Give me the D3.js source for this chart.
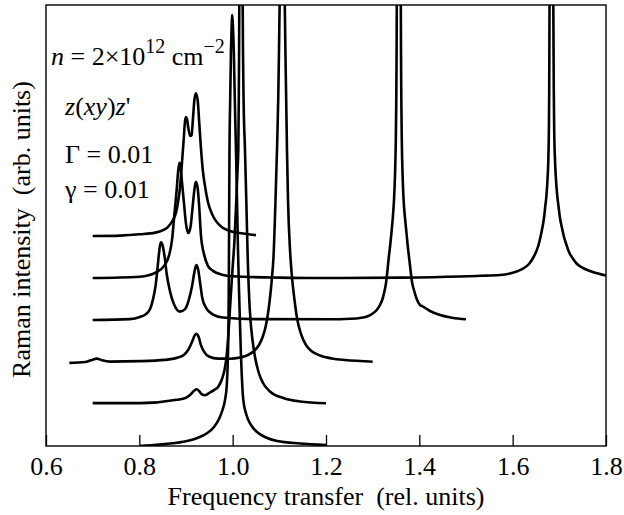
<!DOCTYPE html>
<html>
<head>
<meta charset="utf-8">
<script src="https://cdn.jsdelivr.net/npm/d3@7"></script>
<style>
  body { margin: 0; background: #fff; }
  svg text { font-family: "Liberation Serif", "Times New Roman", Times, serif; font-size: 26px; fill: #000; }
</style>
</head>
<body>
<svg id="chart" width="624" height="515"></svg>
<script>
//------------------- données -------------------

var xTicks = [0.6, 0.8, 1.0, 1.2, 1.4, 1.6, 1.8];

// décalage vertical de chaque spectre (du bas vers le haut)
var offsets = [0, 1, 2, 3, 4, 5];

// [fréquence, intensité au-dessus de la ligne de base]
var spectreA = [[0.8000,0],[0.8443,0.036],[0.8936,0.102],[0.9214,0.179],[0.9450,0.302],[0.9600,0.452],[0.9707,0.643],
  [0.9782,0.857],[0.9836,1.095],[0.9874,1.452],[0.9896,2.048],[0.9911,3.0],[0.9919,4.19],[0.9926,5.857],
  [0.9932,7.048],[0.9947,8.238],[0.9964,9.429],[0.9977,9.952],[0.9992,10.262],[1.0007,9.952],[1.0024,9.429],
  [1.0046,8.238],[1.0071,7.048],[1.0093,5.857],[1.0114,4.667],[1.0142,3.476],[1.0174,2.286],[1.0228,1.095],
  [1.0296,0.738],[1.0393,0.5],[1.0521,0.333],[1.0714,0.202],[1.0950,0.119],[1.1443,0.06],[1.2000,0.024]];

var spectreB = [[0.700,0.02],[0.801,0.02],[0.880,0.10],[0.900,0.15],[0.911,0.24],[0.918,0.32],[0.923,0.35],[0.928,0.31],
  [0.934,0.23],[0.941,0.21],[0.951,0.27],[0.960,0.33],[0.9692,0.412],[0.9771,0.595],[0.9825,0.81],[0.9868,1.119],
  [0.9900,1.524],[0.9928,2.0],[0.9954,2.476],[0.9996,3.19],[1.0039,3.905],[1.0078,4.857],[1.0104,5.571],
  [1.0121,6.048],[1.0131,7.238],[1.0138,8.429],[1.0142,9.5],[1.0179,13],[1.0215,9.5],[1.0221,8.429],
  [1.0234,7.238],[1.0264,6.048],[1.0292,4.857],[1.0318,3.667],[1.0356,2.476],[1.0382,2.0],[1.0425,1.524],
  [1.0479,1.119],[1.0554,0.762],[1.0650,0.5],[1.0800,0.298],[1.1085,0.143],[1.1443,0.06],[1.2000,0.017]];

var spectreC = [[0.650,-0.02],[0.684,0],[0.696,0.04],[0.709,0.08],[0.718,0.05],[0.737,0.01],[0.801,0.02],[0.855,0.05],
  [0.881,0.10],[0.896,0.17],[0.906,0.31],[0.913,0.48],[0.918,0.62],[0.922,0.67],[0.927,0.60],[0.932,0.40],
  [0.939,0.24],[0.949,0.13],[0.969,0.08],[0.9943,0.079],[1.0157,0.107],[1.0329,0.167],[1.0457,0.262],
  [1.0564,0.405],[1.0650,0.619],[1.0714,0.881],[1.0768,1.238],[1.0811,1.643],[1.0843,2.024],[1.0875,2.5],
  [1.0918,3.857],[1.0950,5.048],[1.0976,6.238],[1.0993,7.429],[1.1006,8.5],[1.1061,12],[1.1117,8.5],
  [1.1130,7.429],[1.1147,6.238],[1.1164,5.048],[1.1186,3.857],[1.1229,2.667],[1.1271,2.024],[1.1325,1.476],
  [1.1379,1.048],[1.1464,0.667],[1.1571,0.405],[1.1700,0.25],[1.1871,0.155],[1.2129,0.083],[1.2407,0.048],
  [1.2729,0.024],[1.3000,0.007]];

var spectreD = [[0.700,0],[0.780,0.02],[0.801,0.07],[0.814,0.14],[0.823,0.26],[0.829,0.48],[0.835,0.83],[0.839,1.24],
  [0.843,1.67],[0.846,1.85],[0.849,1.81],[0.854,1.52],[0.859,1.07],[0.866,0.67],[0.874,0.38],[0.887,0.20],
  [0.898,0.26],[0.906,0.48],[0.913,0.81],[0.918,1.14],[0.922,1.31],[0.926,1.21],[0.930,0.90],[0.935,0.52],
  [0.943,0.29],[0.958,0.13],[0.979,0.06],[1.059,0.02],[1.2086,0.017],[1.2514,0.029],[1.2729,0.048],
  [1.2879,0.083],[1.2986,0.143],[1.3086,0.238],[1.3157,0.357],[1.3211,0.5],[1.3254,0.69],[1.3286,0.881],
  [1.3318,1.19],[1.3346,1.5],[1.3376,1.786],[1.3404,2.095],[1.3431,2.429],[1.3457,2.857],[1.3479,3.452],
  [1.3496,4.286],[1.3506,5.238],[1.3513,6.429],[1.3517,7.5],[1.3560,10],[1.3603,7.5],[1.3607,6.429],
  [1.3614,5.238],[1.3624,4.286],[1.3641,3.452],[1.3663,2.857],[1.3693,2.429],[1.3723,2.095],[1.3749,1.786],
  [1.3779,1.5],[1.3811,1.19],[1.3847,0.881],[1.3890,0.69],[1.3944,0.5],[1.4014,0.357],[1.4079,0.321],
  [1.4229,0.214],[1.4443,0.119],[1.4700,0.055],[1.5000,0.019]];

var spectreE = [[0.700,0],[0.801,0.03],[0.837,0.14],[0.853,0.29],[0.864,0.55],[0.870,0.90],[0.875,1.50],[0.880,2.10],
  [0.883,2.52],[0.886,2.74],[0.888,2.67],[0.891,2.33],[0.896,1.74],[0.900,1.29],[0.905,1.07],[0.910,1.24],
  [0.914,1.67],[0.918,2.10],[0.921,2.29],[0.925,2.14],[0.928,1.74],[0.932,1.02],[0.939,0.55],[0.947,0.29],
  [0.958,0.17],[0.977,0.08],[1.001,0.04],[1.101,0.01],[1.187,0],[1.359,0.01],[1.4871,0.036],[1.5300,0.052],
  [1.5729,0.071],[1.5943,0.107],[1.6114,0.167],[1.6243,0.238],[1.6350,0.333],[1.6436,0.476],[1.6500,0.619],
  [1.6554,0.786],[1.6596,0.976],[1.6635,1.19],[1.6671,1.429],[1.6699,1.714],[1.6725,1.976],[1.6746,2.333],
  [1.6764,2.81],[1.6776,3.524],[1.6783,4.476],[1.6787,5.667],[1.6790,6.5],[1.6828,9],[1.6871,6.5],
  [1.6875,5.667],[1.6881,4.476],[1.6890,3.524],[1.6907,2.81],[1.6929,2.333],[1.6954,1.976],[1.6982,1.714],
  [1.7014,1.429],[1.7057,1.19],[1.7100,0.976],[1.7154,0.786],[1.7207,0.619],[1.7282,0.476],[1.7379,0.333],
  [1.7507,0.238],[1.7657,0.167],[1.7829,0.107],[1.8000,0.06]];

var spectreF = [[0.700,0],[0.759,0.01],[0.801,0.04],[0.834,0.08],[0.851,0.14],[0.861,0.21],[0.872,0.38],[0.879,0.57],
  [0.883,0.81],[0.887,1.14],[0.891,1.69],[0.895,2.29],[0.898,2.74],[0.900,2.83],[0.902,2.79],[0.905,2.57],
  [0.909,2.38],[0.912,2.40],[0.915,2.81],[0.918,3.24],[0.921,3.40],[0.925,3.24],[0.928,2.76],[0.932,2.10],
  [0.936,1.57],[0.941,1.17],[0.947,0.81],[0.956,0.52],[0.964,0.36],[0.977,0.21],[0.994,0.12],[1.022,0.06],
  [1.050,0.02]];

var spectres = [spectreA, spectreB, spectreC, spectreD, spectreE, spectreF];

//------------------- dessin -------------------

var svg = d3.select("#chart");
var gauche = 46, droite = 606, haut = 5, bas = 446;

var x = d3.scaleLinear().domain([0.6, 1.8]).range([gauche, droite]);
var y = d3.scaleLinear().domain([0, 10.5]).range([bas, haut]);

svg.append("defs").append("clipPath").attr("id", "zone")
    .append("rect")
    .attr("x", gauche).attr("y", haut)
    .attr("width", droite - gauche).attr("height", bas - haut);

var courbes = svg.append("g").attr("clip-path", "url(#zone)");

spectres.forEach(function(s, i) {
    var ligne = d3.line()
        .x(function(d) { return x(d[0]); })
        .y(function(d) { return y(d[1] + offsets[i]); })
        .curve(d3.curveMonotoneX);
    courbes.append("path")
        .datum(s)
        .attr("d", ligne)
        .attr("fill", "none")
        .attr("stroke", "#000")
        .attr("stroke-width", 2.6)
        .attr("stroke-linejoin", "round");
});

// axe du bas, graduations vers l'intérieur
var axe = svg.append("g")
    .attr("transform", "translate(0," + bas + ")")
    .call(d3.axisBottom(x).tickValues(xTicks).tickSize(-11).tickPadding(10.5).tickFormat(d3.format(".1f")));
axe.select(".domain").remove();
axe.selectAll("line").attr("stroke", "#000").attr("stroke-width", 1.3);
axe.selectAll("text").attr("font-size", 26).attr("font-family", null);

// cadre
svg.append("rect")
    .attr("x", gauche).attr("y", haut)
    .attr("width", droite - gauche).attr("height", bas - haut)
    .attr("fill", "none").attr("stroke", "#000").attr("stroke-width", 1.4);

// titres des axes
svg.append("text")
    .attr("x", (gauche + droite) / 2).attr("y", 505)
    .attr("text-anchor", "middle").style("white-space", "pre")
    .attr("font-size", 26.5)
    .text("Frequency transfer  (rel. units)");

svg.append("text")
    .attr("transform", "translate(30," + ((haut + bas) / 2 + 4) + ") rotate(-90)")
    .attr("text-anchor", "middle").style("white-space", "pre")
    .text("Raman intensity  (arb. units)");

// annotations
var n = svg.append("text").attr("x", 51).attr("y", 65);
n.append("tspan").style("font-style", "italic").text("n");
n.append("tspan").text(" = 2\u00d710");
n.append("tspan").attr("font-size", 20).attr("dy", -12).text("12");
n.append("tspan").attr("dy", 12).text(" cm");
n.append("tspan").attr("font-size", 20).attr("dy", -12).text("\u22122");

var geo = svg.append("text").attr("x", 65).attr("y", 115);
geo.append("tspan").style("font-style", "italic").text("z");
geo.append("tspan").text("(");
geo.append("tspan").style("font-style", "italic").text("xy");
geo.append("tspan").text(")");
geo.append("tspan").style("font-style", "italic").text("z");
geo.append("tspan").text("'");

svg.append("text").attr("x", 65).attr("y", 163).text("\u0393 = 0.01");
svg.append("text").attr("x", 65).attr("y", 198).text("\u03b3 = 0.01");
</script>
</body>
</html>
